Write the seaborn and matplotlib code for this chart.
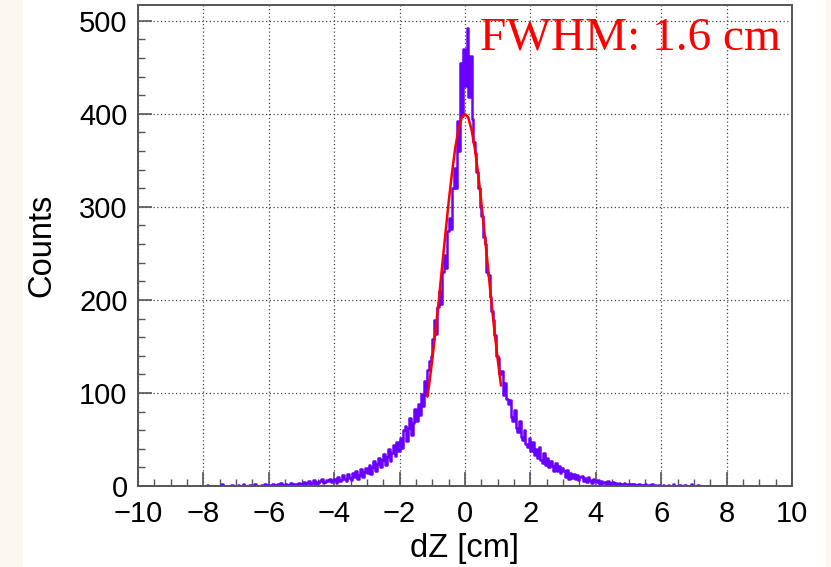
import numpy as np
import pandas as pd
import matplotlib
matplotlib.use("Agg")
import matplotlib.pyplot as plt
import seaborn as sns
from matplotlib.ticker import MultipleLocator

# ---- data (bin width 0.05 cm, range -8 .. 8) ----
bin_lo, bin_hi, bin_w = -8.0, 8.0, 0.05
counts_m8_m7 = [0,0,1,0,0,0,0,0,0,0,0,2,0,0,0,0,0,1,0,0]
counts_m7_m6 = [0,1,0,0,2,0,0,0,1,0,0,2,0,0,0,1,0,2,0,1]
counts_m6_m5 = [1,0,2,1,0,2,1,3,0,1,2,1,0,3,1,2,2,1,3,2]
counts_m5_m4 = [2,4,1,3,5,2,3,6,2,4,3,5,7,3,4,6,5,8,4,6]
counts_m4_m3 = [7,3,10,5,6,12,8,5,13,9,6,14,10,16,8,12,18,10,15,19]
counts_m3_m2 = [14,23,13,20,27,16,24,30,20,28,34,23,31,40,27,36,44,32,47,38]
counts_m2_m1 = [52,41,60,64,48,62,73,55,68,83,70,88,76,99,86,113,98,125,134,140]
counts_m1_0 = [158,178,163,192,210,196,230,248,234,274,288,276,320,342,320,392,360,455,398,470]
counts_0_p1 = [430,492,418,462,395,370,358,338,320,300,290,268,260,230,227,203,188,178,162,140]
counts_p1_p2 = [138,120,124,98,111,93,88,92,74,70,82,62,58,70,53,49,60,45,42,52]
counts_p2_p3 = [38,47,33,40,30,42,28,25,35,23,30,20,27,22,16,25,16,21,14,19]
counts_p3_p4 = [16,10,17,8,14,9,13,7,12,6,10,11,5,9,4,10,6,3,8,5]
counts_p4_p5 = [4,6,2,5,3,4,2,5,1,3,4,2,3,1,3,2,0,3,1,2]
counts_p5_p6 = [1,2,0,2,1,0,2,1,0,1,2,0,1,0,2,0,1,0,1,0]
counts_p6_p7 = [0,1,0,0,1,0,0,2,0,0,0,1,0,0,1,0,0,0,2,0]
counts_p7_p8 = [0,0,1,0,0,0,0,0,0,0,0,0,0,0,0,0,0,0,0,0]

# Gaussian fit curve
fit_x = [-1.15,-1.1,-1.0,-0.9,-0.8,-0.7,-0.6,-0.5,-0.4,-0.3,-0.2,-0.1,0.0,
         0.1,0.2,0.3,0.4,0.5,0.6,0.7,0.8,0.9,1.0,1.1]
fit_y = [96,108,136,167,200,236,271,305,336,363,383,396,400,
         396,383,363,336,305,271,236,200,167,136,108]

fwhm_text = "FWHM: 1.6 cm"
x_label = "dZ [cm]"
y_label = "Counts"
x_ticks = [-10,-8,-6,-4,-2,0,2,4,6,8,10]
y_ticks = [0,100,200,300,400,500]

counts = (counts_m8_m7 + counts_m7_m6 + counts_m6_m5 + counts_m5_m4 + counts_m4_m3
          + counts_m3_m2 + counts_m2_m1 + counts_m1_0 + counts_0_p1 + counts_p1_p2
          + counts_p2_p3 + counts_p3_p4 + counts_p4_p5 + counts_p5_p6 + counts_p6_p7
          + counts_p7_p8)
n = len(counts)
centers = bin_lo + bin_w * (np.arange(n) + 0.5)
df = pd.DataFrame({"dZ": centers, "counts": np.asarray(counts, dtype=float)})
fit_df = pd.DataFrame({"x": fit_x, "y": fit_y})

sns.set_theme(style="white")
plt.rcParams["font.family"] = ["Liberation Sans", "DejaVu Sans"]

W, H = 831, 567
fig = plt.figure(figsize=(W/100, H/100), dpi=100)
fig.patch.set_facecolor("#fbf8f1")
# white panel
panel = fig.add_axes([23/W, 0, (826-23)/W, 1])
panel.set_facecolor("white")
panel.set_xticks([])
panel.set_yticks([])
for s in panel.spines.values():
    s.set_visible(False)

ax_l, ax_r, ax_t, ax_b = 138, 792, 5, 486
ax = fig.add_axes([ax_l/W, 1-ax_b/H, (ax_r-ax_l)/W, (ax_b-ax_t)/H])
ax.set_facecolor("white")

sns.histplot(data=df, x="dZ", weights="counts", binwidth=bin_w, binrange=(bin_lo, bin_hi),
             element="step", fill=False, color="#6a00ff", linewidth=1.8, ax=ax)
sns.lineplot(data=fit_df, x="x", y="y", color="#ff0000", linewidth=1.8, ax=ax)

ax.set_xlim(-10, 10)
ax.set_ylim(0, 517)
ax.set_xticks(x_ticks)
ax.set_xticklabels([str(t).replace("-", "\u2212") for t in x_ticks])
ax.set_yticks(y_ticks)
ax.xaxis.set_minor_locator(MultipleLocator(0.5))
ax.yaxis.set_minor_locator(MultipleLocator(20))
ax.tick_params(which="major", direction="in", length=10, width=1.2, color="#555555",
               labelsize=21, pad=7.5, labelcolor="black", bottom=True, left=True)
ax.tick_params(which="minor", direction="in", length=5, width=1.0, color="#555555",
               bottom=True, left=True)
ax.tick_params(axis="x", which="major", pad=10)
ax.grid(True, which="major", linestyle=(0, (1, 2)), color="#444444", linewidth=0.9)
ax.set_axisbelow(True)
for s in ax.spines.values():
    s.set_color("#555555")
    s.set_linewidth(1.4)

ax.set_xlabel(x_label, fontsize=23.5, color="black", va="center", ha="center")
ax.xaxis.set_label_coords(0.5, (ax_b - 548) / (ax_b - ax_t))
ax.set_ylabel(y_label, fontsize=23.5, color="black", va="center", ha="center")
ax.yaxis.set_label_coords((42 - ax_l) / (ax_r - ax_l), 0.5)
ax.text((480 - ax_l) / (ax_r - ax_l), (ax_b - 49) / (ax_b - ax_t), fwhm_text,
        transform=ax.transAxes, color="#ff0000", fontsize=34,
        family=["Liberation Serif", "DejaVu Serif"], va="baseline", ha="left")

fig.savefig("out.png", dpi=100, facecolor=fig.get_facecolor())
